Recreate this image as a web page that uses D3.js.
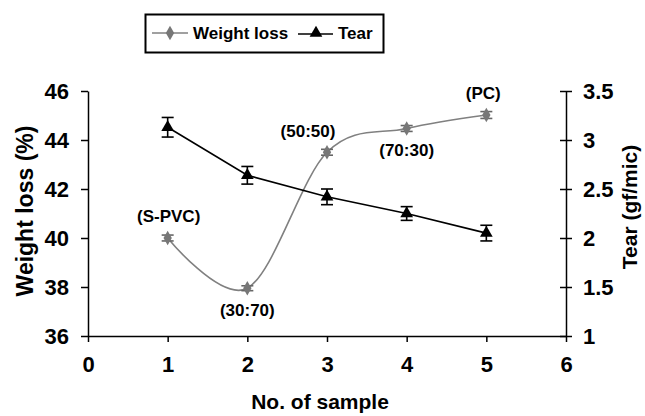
<!DOCTYPE html>
<html>
<head>
  <style type="text/css">
    body { margin: 0; background: #fff; }
    text { font-family: Arial, "Liberation Sans", sans-serif; font-weight: bold; }
    .axis path, .axis line { stroke: #000; stroke-width: 1.5px; }
  </style>
</head>
<body>
<svg></svg>
<script src="https://d3js.org/d3.v7.min.js"></script>
<script>
    var width = 645;
    var height = 416;

    // data
    var samples = [1, 2, 3, 4, 5];
    var weightLoss = [40.0, 37.95, 43.5, 44.47, 45.02];
    var weightErr = [0.12, 0.1, 0.12, 0.12, 0.14];
    var tear = [3.13, 2.64, 2.42, 2.25, 2.05];
    var tearErr = [0.1, 0.09, 0.08, 0.07, 0.08];
    var sampleNames = ['(S-PVC)', '(30:70)', '(50:50)', '(70:30)', '(PC)'];
    var xTicks = [0, 1, 2, 3, 4, 5, 6];
    var yLeftTicks = [36, 38, 40, 42, 44, 46];
    var yRightTicks = [1, 1.5, 2, 2.5, 3, 3.5];

    var margin = {left: 88, right: 79, top: 91, bottom: 80};
    var svg = d3.select('svg').attr('width', width).attr('height', height);

    var x = d3.scaleLinear().domain([0, 6]).range([margin.left, width - margin.right]);
    var yL = d3.scaleLinear().domain([36, 46]).range([height - margin.bottom, margin.top]);
    var yR = d3.scaleLinear().domain([1, 3.5]).range([height - margin.bottom, margin.top]);

    // axes
    svg.append('g').attr('class', 'axis')
      .attr('transform', 'translate(0,' + (height - margin.bottom) + ')')
      .call(d3.axisBottom(x).tickValues(xTicks).tickSize(6).tickSizeOuter(0).tickPadding(14)
        .tickFormat(d3.format('d')))
      .selectAll('text').style('font-size', '22px');

    svg.append('g').attr('class', 'axis')
      .attr('transform', 'translate(' + margin.left + ',0)')
      .call(d3.axisLeft(yL).tickValues(yLeftTicks).tickSize(7).tickSizeOuter(0).tickPadding(12))
      .selectAll('text').style('font-size', '22px');

    var rAxis = svg.append('g').attr('class', 'axis')
      .attr('transform', 'translate(' + (width - margin.right) + ',0)')
      .call(d3.axisRight(yR).tickValues(yRightTicks).tickSize(6).tickSizeOuter(0).tickPadding(11)
        .tickFormat(function(d) { return d; }));
    rAxis.selectAll('.tick line').attr('x1', -6);
    rAxis.selectAll('text').style('font-size', '22px');

    // axis titles
    svg.append('text')
      .attr('transform', 'translate(25,211) rotate(-90)')
      .attr('text-anchor', 'middle').attr('dy', '0.35em')
      .style('font-size', '23px')
      .text('Weight loss (%)');

    svg.append('text')
      .attr('transform', 'translate(630,207) rotate(-90)')
      .attr('text-anchor', 'middle').attr('dy', '0.35em')
      .style('font-size', '21px')
      .text('Tear (gf/mic)');

    svg.append('text')
      .attr('x', 320).attr('y', 409)
      .attr('text-anchor', 'middle')
      .style('font-size', '21px')
      .text('No. of sample');

    // weight loss series (smoothed, grey)
    var wlData = samples.map(function(s, i) { return {x: s, y: weightLoss[i], e: weightErr[i]}; });
    var tearData = samples.map(function(s, i) { return {x: s, y: tear[i], e: tearErr[i]}; });

    svg.append('path')
      .datum(wlData)
      .attr('fill', 'none').attr('stroke', '#808080').attr('stroke-width', 1.6)
      .attr('d', d3.line().x(function(d) { return x(d.x); }).y(function(d) { return yL(d.y); })
        .curve(d3.curveCatmullRom.alpha(0)));

    svg.append('path')
      .datum(tearData)
      .attr('fill', 'none').attr('stroke', '#000').attr('stroke-width', 1.6)
      .attr('d', d3.line().x(function(d) { return x(d.x); }).y(function(d) { return yR(d.y); }));

    function errBars(data, y, color) {
      var g = svg.append('g').attr('stroke', color).attr('stroke-width', 1.6);
      g.selectAll('line.v').data(data).enter().append('line')
        .attr('x1', function(d) { return x(d.x); }).attr('x2', function(d) { return x(d.x); })
        .attr('y1', function(d) { return y(d.y - d.e); }).attr('y2', function(d) { return y(d.y + d.e); });
      g.selectAll('line.t').data(data).enter().append('line')
        .attr('x1', function(d) { return x(d.x) - 6; }).attr('x2', function(d) { return x(d.x) + 6; })
        .attr('y1', function(d) { return y(d.y + d.e); }).attr('y2', function(d) { return y(d.y + d.e); });
      g.selectAll('line.b').data(data).enter().append('line')
        .attr('x1', function(d) { return x(d.x) - 6; }).attr('x2', function(d) { return x(d.x) + 6; })
        .attr('y1', function(d) { return y(d.y - d.e); }).attr('y2', function(d) { return y(d.y - d.e); });
    }
    errBars(wlData, yL, '#666');
    errBars(tearData, yR, '#000');

    var diamond = d3.symbol().type(d3.symbolDiamond).size(60);
    var triangle = d3.symbol().type(d3.symbolTriangle).size(70);

    svg.append('g').selectAll('path').data(wlData).enter().append('path')
      .attr('transform', function(d) { return 'translate(' + x(d.x) + ',' + yL(d.y) + ')'; })
      .attr('d', diamond).attr('fill', '#777');

    svg.append('g').selectAll('path').data(tearData).enter().append('path')
      .attr('transform', function(d) { return 'translate(' + x(d.x) + ',' + yR(d.y) + ')'; })
      .attr('d', triangle).attr('fill', '#000');

    // sample name labels
    var labelOffsets = [[1, -22], [0, 22], [-19, -21], [0, 22], [-3, -22]];
    svg.append('g').selectAll('text').data(wlData).enter().append('text')
      .attr('x', function(d, i) { return x(d.x) + labelOffsets[i][0]; })
      .attr('y', function(d, i) { return yL(d.y) + labelOffsets[i][1]; })
      .attr('text-anchor', 'middle').attr('dy', '0.35em')
      .style('font-size', '17px')
      .text(function(d, i) { return sampleNames[i]; });

    // legend
    var leg = svg.append('g');
    leg.append('rect').attr('x', 145.5).attr('y', 14.5).attr('width', 238).attr('height', 38)
      .attr('fill', '#fff').attr('stroke', '#000').attr('stroke-width', 2);
    leg.append('line').attr('x1', 152).attr('x2', 188).attr('y1', 33).attr('y2', 33)
      .attr('stroke', '#808080').attr('stroke-width', 1.6);
    leg.append('path').attr('transform', 'translate(170,33)').attr('d', diamond).attr('fill', '#777');
    leg.append('text').attr('x', 193).attr('y', 33).attr('dy', '0.35em')
      .style('font-size', '17px').text('Weight loss');
    leg.append('line').attr('x1', 298).attr('x2', 333).attr('y1', 34).attr('y2', 34)
      .attr('stroke', '#000').attr('stroke-width', 1.6);
    leg.append('path').attr('transform', 'translate(316,33)').attr('d', triangle).attr('fill', '#000');
    leg.append('text').attr('x', 338).attr('y', 33).attr('dy', '0.35em')
      .style('font-size', '17px').text('Tear');
</script>
</body>
</html>
